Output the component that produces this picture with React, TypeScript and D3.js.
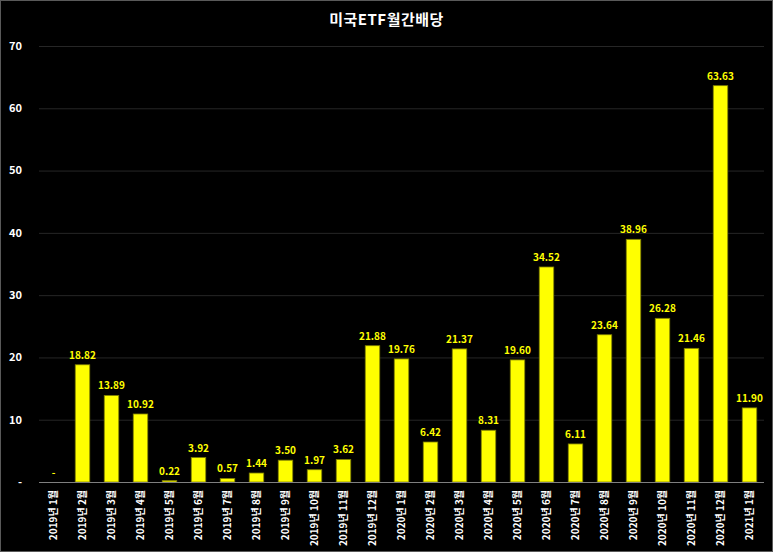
import { useEffect, useRef } from "react";
import * as d3 from "d3";

const months = [
  "2019년 1월", "2019년 2월", "2019년 3월", "2019년 4월", "2019년 5월",
  "2019년 6월", "2019년 7월", "2019년 8월", "2019년 9월", "2019년 10월",
  "2019년 11월", "2019년 12월", "2020년 1월", "2020년 2월", "2020년 3월",
  "2020년 4월", "2020년 5월", "2020년 6월", "2020년 7월", "2020년 8월",
  "2020년 9월", "2020년 10월", "2020년 11월", "2020년 12월", "2021년 1월",
];
const dividends = [
  0, 18.82, 13.89, 10.92, 0.22, 3.92, 0.57, 1.44, 3.5, 1.97, 3.62, 21.88,
  19.76, 6.42, 21.37, 8.31, 19.6, 34.52, 6.11, 23.64, 38.96, 26.28, 21.46,
  63.63, 11.9,
];
const yTicks = [0, 10, 20, 30, 40, 50, 60, 70];

const W = 773;
const H = 552;
const FONT = "'Noto Sans CJK KR', 'Noto Sans', sans-serif";

export default function App() {
  const svgRef = useRef<SVGSVGElement>(null);

  useEffect(() => {
    if (!svgRef.current) return;
    const margin = { top: 46, right: 9, bottom: 70, left: 39 };
    const svg = d3.select(svgRef.current);
    svg.selectAll("*").remove();

    svg.append("rect").attr("width", W).attr("height", H).attr("fill", "#000");
    svg
      .append("rect")
      .attr("x", 0.5)
      .attr("y", 0.5)
      .attr("width", W - 1)
      .attr("height", H - 1)
      .attr("fill", "none")
      .attr("stroke", "#595959");

    const x = d3
      .scaleBand<string>()
      .domain(months)
      .range([margin.left, W - margin.right])
      .paddingInner(0.5)
      .paddingOuter(0.25);
    const y = d3
      .scaleLinear()
      .domain([0, 70])
      .range([H - margin.bottom, margin.top]);

    // title
    svg
      .append("text")
      .attr("x", W / 2)
      .attr("y", 25)
      .attr("text-anchor", "middle")
      .attr("fill", "#fff")
      .style("font-family", FONT)
      .style("font-weight", "bold")
      .style("font-size", "15px")
      .style("letter-spacing", "0.5px")
      .text("미국ETF월간배당");

    // grid
    svg
      .append("g")
      .selectAll("line")
      .data(yTicks.filter((t) => t > 0))
      .enter()
      .append("line")
      .attr("x1", margin.left)
      .attr("x2", W - margin.right)
      .attr("y1", (d) => y(d) + 0.5)
      .attr("y2", (d) => y(d) + 0.5)
      .attr("stroke", "#262626");

    // y labels
    svg
      .append("g")
      .selectAll("text")
      .data(yTicks)
      .enter()
      .append("text")
      .attr("x", 22)
      .attr("y", (d) => y(d))
      .attr("dy", "0.35em")
      .attr("text-anchor", "end")
      .attr("fill", "#fff")
      .style("font-family", FONT)
      .style("font-weight", "bold")
      .style("font-size", "11px")
      .text((d) => (d === 0 ? "-" : String(d)));

    // bars
    svg
      .append("g")
      .selectAll("rect")
      .data(dividends)
      .enter()
      .append("rect")
      .attr("x", (_d, i) => x(months[i])!)
      .attr("y", (d) => y(d))
      .attr("width", x.bandwidth())
      .attr("height", (d) => y(0) - y(d))
      .attr("fill", "#ffff00")
      .attr("stroke", "#7f7f00")
      .attr("stroke-width", 0.8);

    // axis line
    svg
      .append("line")
      .attr("x1", margin.left)
      .attr("x2", W - margin.right)
      .attr("y1", y(0) + 0.5)
      .attr("y2", y(0) + 0.5)
      .attr("stroke", "#7f7f7f");

    // value labels
    svg
      .append("g")
      .selectAll("text")
      .data(dividends)
      .enter()
      .append("text")
      .attr("x", (_d, i) => x(months[i])! + x.bandwidth() / 2)
      .attr("y", (d) => y(d) - 6)
      .attr("text-anchor", "middle")
      .attr("fill", "#ffff00")
      .style("font-family", FONT)
      .style("font-weight", "bold")
      .style("font-size", "10px")
      .text((d) => (d === 0 ? "-" : d.toFixed(2)));

    // x labels
    svg
      .append("g")
      .selectAll("text")
      .data(months)
      .enter()
      .append("text")
      .attr(
        "transform",
        (d) => `translate(${x(d)! + x.bandwidth() / 2},${y(0) + 8}) rotate(-90)`,
      )
      .attr("dy", "0.35em")
      .attr("text-anchor", "end")
      .attr("fill", "#fff")
      .style("font-family", FONT)
      .style("font-weight", "bold")
      .style("font-size", "10px")
      .text((d) => d);
  }, []);

  return (
    <div style={{ position: "absolute", left: 0, top: 0, width: W, height: H }}>
      <svg ref={svgRef} width={W} height={H} />
    </div>
  );
}
